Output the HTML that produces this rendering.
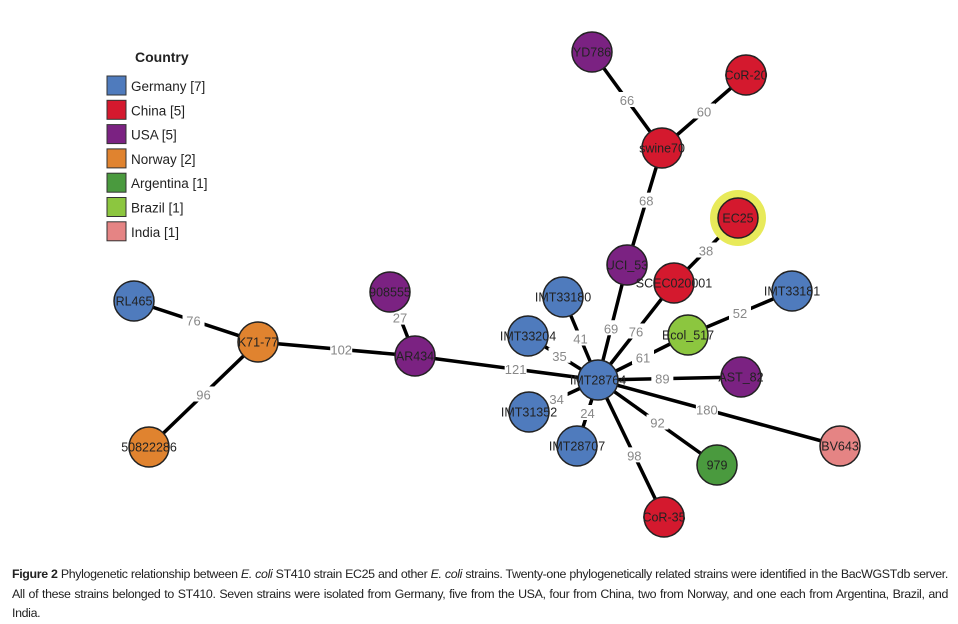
<!DOCTYPE html>
<html><head><meta charset="utf-8">
<style>
body{margin:0;background:#fff;width:958px;height:623px;overflow:hidden;font-family:"Liberation Sans",sans-serif}
#cap{position:absolute;left:12px;top:565px;width:936px;font-size:12.4px;line-height:19.5px;color:#222;text-align:justify;font-family:"Liberation Sans",sans-serif;letter-spacing:-0.35px}
</style></head><body>
<svg id="chart" width="958" height="560" style="position:absolute;left:0;top:0" font-family="Liberation Sans, sans-serif"></svg>
<div id="cap"><b>Figure 2</b> Phylogenetic relationship between <i>E. coli</i> ST410 strain EC25 and other <i>E. coli</i> strains. Twenty-one phylogenetically related strains were identified in the BacWGSTdb server. All of these strains belonged to ST410. Seven strains were isolated from Germany, five from the USA, four from China, two from Norway, and one each from Argentina, Brazil, and India.</div>
<script>
const countries=["Germany","China","USA","Norway","Argentina","Brazil","India"];
const countryCounts=[7,5,5,2,1,1,1];
const countryColors=["#4f7bbd","#d4192e","#7b2282","#e0832f","#4a9a3e","#8cc63f","#e58484"];
const nodeNames=["IMT28764","IMT33180","IMT33204","IMT31352","IMT28707","UCI_53","SCEC020001","EC25","IMT33181","Ecol_517","AST_82","BV643","979","CoR-35","swine70","YD786","CoR-20","AR434","908555","K71-77","RL465","50822286"];
const nodeCountry=[0,0,0,0,0,2,1,1,0,5,2,6,4,1,1,2,1,2,2,3,0,3];
const nodeX=[598,563,528,529,577,627,674,738,792,688,741,840,717,664,662,592,746,415,390,258,134,149];
const nodeY=[380,297,336,412,446,265,283,218,291,335,377,446,465,517,148,52,75,356,292,342,301,447];
const edgeFrom=[19,19,19,17,17,14,14,5,6,0,0,0,0,0,0,0,0,0,0,0,9];
const edgeTo=[20,21,17,18,0,15,16,14,7,5,6,1,2,3,4,9,10,11,12,13,8];
const edgeWeights=[76,96,102,27,121,66,60,68,38,69,76,41,35,34,24,61,89,180,92,98,52];
const edgeLabelT=[0.52,0.5,0.53,0.6,0.55,0.5,0.5,0.55,0.5,0.45,0.5,0.5,0.55,0.6,0.5,0.5,0.45,0.45,0.5,0.55,0.5];
const svg=document.getElementById('chart');const NS="http://www.w3.org/2000/svg";
function mk(t,a){const e=document.createElementNS(NS,t);for(const k in a)e.setAttribute(k,a[k]);svg.appendChild(e);return e;}
for(let i=0;i<edgeWeights.length;i++){const a=edgeFrom[i],b=edgeTo[i];
const l=mk('line',{x1:nodeX[a],y1:nodeY[a],x2:nodeX[b],y2:nodeY[b],stroke:'#000','stroke-width':3.5});

}
for(let i=0;i<edgeWeights.length;i++){const a=edgeFrom[i],b=edgeTo[i],t=edgeLabelT[i];
const x=nodeX[a]+(nodeX[b]-nodeX[a])*t,y=nodeY[a]+(nodeY[b]-nodeY[a])*t;
const r=mk('rect',{x:x-11,y:y-8,width:22,height:15,fill:'#fff'});


const tx=mk('text',{x:x,y:y+5,'text-anchor':'middle','font-size':13,fill:'#888'});tx.textContent=edgeWeights[i];

}
for(let i=0;i<nodeNames.length;i++){
if(nodeNames[i]==='EC25'){const h=mk('circle',{cx:nodeX[i],cy:nodeY[i],r:28,fill:'#e8ea5a'});

}
const c=mk('circle',{cx:nodeX[i],cy:nodeY[i],r:20,fill:countryColors[nodeCountry[i]],stroke:'#222','stroke-width':1.5});


const t=mk('text',{x:nodeX[i],y:nodeY[i]+4.5,'text-anchor':'middle','font-size':12.5,fill:'#222'});t.textContent=nodeNames[i];

}
const tt=mk('text',{x:135,y:62,'font-size':14,'font-weight':'bold',fill:'#222'});tt.textContent='Country';


for(let i=0;i<countries.length;i++){const y=76+i*24.3;
const r=mk('rect',{x:107,y:y,width:19,height:19,fill:countryColors[i],stroke:'#333','stroke-width':1});


const t=mk('text',{x:131,y:y+15,'font-size':13.5,fill:'#222'});t.textContent=countries[i]+' ['+countryCounts[i]+']';

}
</script>
</body></html>
